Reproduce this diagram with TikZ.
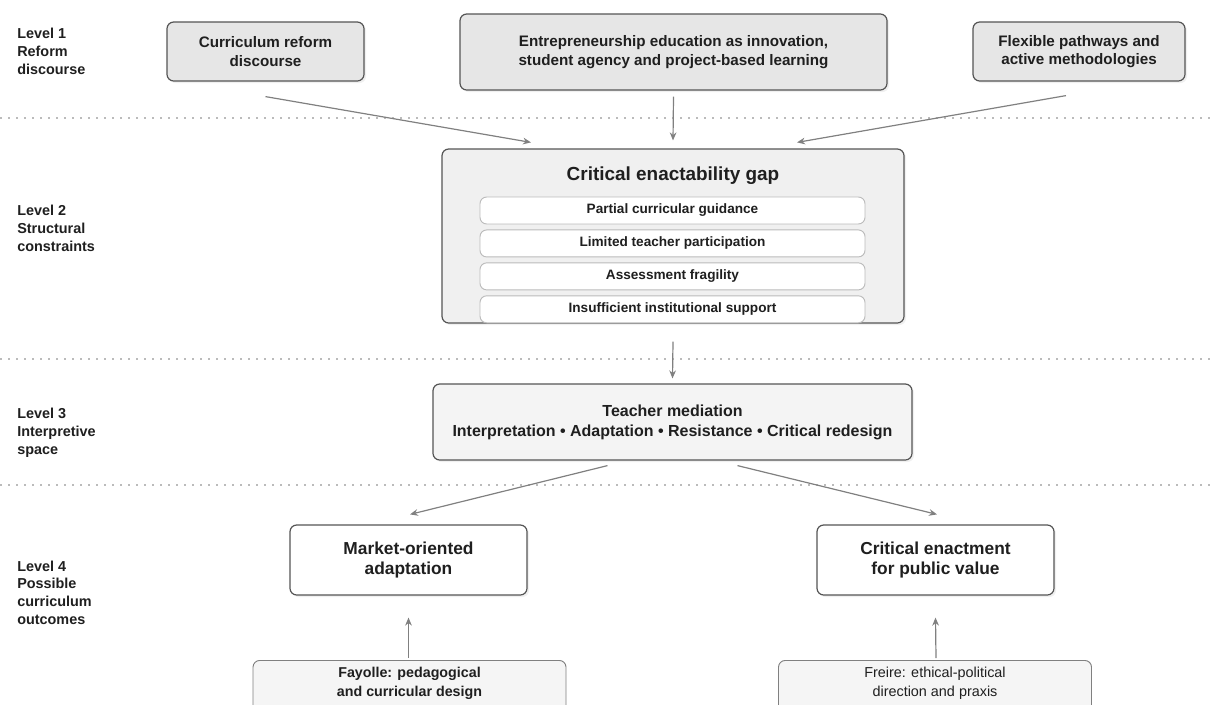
\documentclass[tikz,border=0pt]{standalone}
\usepackage{fontspec}
\setmainfont{Liberation Sans}
\usepackage{xcolor}
\usetikzlibrary{positioning, calc, arrows.meta, shadows}

\definecolor{ink}{HTML}{1F1F1F}
\definecolor{edge}{HTML}{555555}
\definecolor{topfill}{HTML}{E6E6E6}
\definecolor{gapfill}{HTML}{F0F0F0}
\definecolor{medfill}{HTML}{F4F4F4}
\definecolor{srcfill}{HTML}{F5F5F5}
\definecolor{arrgray}{HTML}{808080}
\definecolor{sepgray}{HTML}{BBBBBB}

\tikzset{
  lvl/.style={anchor=north west, inner sep=0pt, align=left, text=ink,
    font=\bfseries\fontsize{10.8}{13.3}\selectfont},
  boxshadow/.style={drop shadow={shadow xshift=1.5pt, shadow yshift=-1.5pt, opacity=0.12}},
  topbox/.style={draw=edge, fill=topfill, line width=0.9pt, rounded corners=5pt,
    align=center, text=ink, boxshadow, font=\bfseries\fontsize{11.4}{14}\selectfont},
  gapbox/.style={draw=edge, fill=gapfill, line width=0.9pt, rounded corners=5pt, boxshadow},
  rowbox/.style={draw=sepgray, fill=white, line width=0.7pt, rounded corners=5pt,
    minimum width=288.75pt, minimum height=20.25pt, inner sep=0pt, text=ink,
    font=\bfseries\fontsize{10.2}{11}\selectfont},
  medbox/.style={draw=edge, fill=medfill, line width=0.9pt, rounded corners=5pt,
    align=center, text=ink, boxshadow, font=\bfseries\fontsize{12}{15}\selectfont},
  outbox/.style={draw=edge, fill=white, line width=0.9pt, rounded corners=5pt,
    minimum width=177.75pt, minimum height=52.5pt, align=center, text=ink, boxshadow,
    font=\bfseries\fontsize{13}{15.7}\selectfont},
  srcbox/.style={draw=arrgray, fill=srcfill, line width=0.7pt, rounded corners=5pt,
    anchor=north, minimum width=234.75pt, inner ysep=5pt, align=center, text=ink,
    text depth=30pt, font=\fontsize{10.8}{14}\selectfont},
  arr/.style={->, draw=arrgray, line width=0.9pt, >={Stealth[length=6pt, width=5pt]}},
  sep/.style={draw=sepgray, line width=1pt, dash pattern=on 1.2pt off 4.8pt}
}

\begin{document}
\begin{tikzpicture}[x=0.75pt, y=-0.75pt]

    \useasboundingbox (0,0) rectangle (1214,704);
    \clip (0,0) rectangle (1214,704);

    % --- Level separators ---
    \foreach \yy in {118,359,485}
        \draw[sep] (0,\yy) -- (1214,\yy);

    % --- Level labels ---
    \node[lvl] (lvlA) at (17,28) {Level 1\\Reform\\discourse};
    \node[lvl] (lvlB) at (17,205) {Level 2\\Structural\\constraints};
    \node[lvl] (lvlC) at (17,408) {Level 3\\Interpretive\\space};
    \node[lvl] (lvlD) at (17,560.5) {Level 4\\Possible\\curriculum\\outcomes};

    % --- Level 1: reform discourse ---
    \node[topbox, minimum width=147.75pt, minimum height=44.25pt] (reform) at (265.5,51.5)
        {Curriculum reform\\discourse};
    \node[topbox, minimum width=320.25pt, minimum height=57pt] (entre) at (673.5,52)
        {Entrepreneurship education as innovation,\\student agency and project-based learning};
    \node[topbox, minimum width=159pt, minimum height=44.25pt] (flex) at (1079,51.5)
        {Flexible pathways and\\active methodologies};

    % --- Level 2: enactability gap ---
    \node[gapbox, minimum width=346.5pt, minimum height=130.5pt] (gap) at (673,236) {};
    \node[text=ink, font=\bfseries\fontsize{14.2}{16}\selectfont] (gaptitle) at (673,175.5)
        {Critical enactability gap};
    \node[rowbox] (gapA) at (672.5,210.5) {Partial curricular guidance};
    \node[rowbox, below=3.75pt of gapA] (gapB) {Limited teacher participation};
    \node[rowbox, below=3.75pt of gapB] (gapC) {Assessment fragility};
    \node[rowbox, below=3.75pt of gapC] (gapD) {Insufficient institutional support};

    % --- Level 3: teacher mediation ---
    \node[medbox, minimum width=359.25pt, minimum height=57pt] (mediation) at (672.5,422)
        {Teacher mediation\\Interpretation \textbullet{} Adaptation \textbullet{} Resistance \textbullet{} Critical redesign};

    % --- Level 4: outcomes and their sources ---
    \node[outbox] (market) at (408.5,560) {Market-oriented\\adaptation};
    \node[outbox] (critical) at (935.5,560) {Critical enactment\\for public value};
    \node[srcbox, font=\bfseries\fontsize{10.7}{14}\selectfont] (fayolle) at (409.5,660)
        {Fayolle: pedagogical\\and curricular design};
    \node[srcbox] (freire) at (935,660) {Freire: ethical-political\\direction and praxis};

    % --- Arrows ---
    \draw[arr] ($(reform.south)+(0,15)$) -- ($(gap.north)+(-142,-6)$);
    \draw[arr] ($(entre.south)+(0,6)$) -- ($(gap.north)+(0,-8)$);
    \draw[arr] ($(flex.south)+(-13,14)$) -- ($(gap.north)+(124,-6)$);
    \draw[arr] ($(gap.south)+(0,18)$) -- ($(mediation.north)+(0,-5)$);
    \draw[arr] ($(mediation.south)+(-65,5)$) -- ($(market.north)+(1.5,-10)$);
    \draw[arr] ($(mediation.south)+(65,5)$) -- ($(critical.north)+(1.5,-10)$);
    \draw[arr] ($(fayolle.north)+(-1,-2)$) -- ($(market.south)+(0,22)$);
    \draw[arr] ($(freire.north)+(1,-2)$) -- ($(critical.south)+(0,22)$);

\end{tikzpicture}
\end{document}
